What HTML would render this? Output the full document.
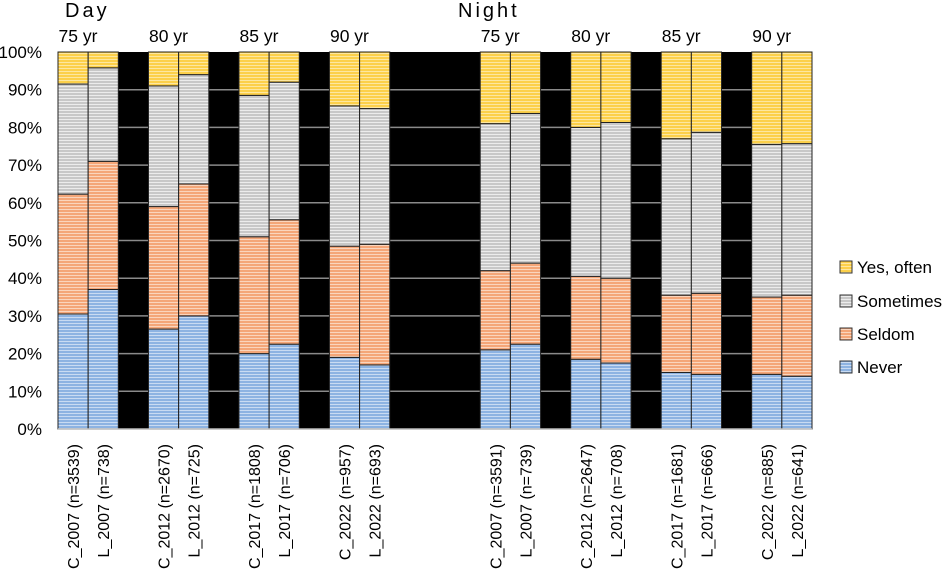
<!DOCTYPE html>
<html><head><meta charset="utf-8"><style>
body{margin:0;background:#fff;}
svg text{font-family:"Liberation Sans",sans-serif;fill:#000;}
</style></head><body>
<svg id="chart" width="948" height="575" viewBox="0 0 948 575" xmlns="http://www.w3.org/2000/svg">
<defs>
<pattern id="pNever" width="4" height="3" patternUnits="userSpaceOnUse"><rect width="4" height="3" fill="#8db3e2"/><rect y="2" width="4" height="1" fill="#c9dbf2"/></pattern>
<pattern id="pSeldom" width="4" height="3" patternUnits="userSpaceOnUse"><rect width="4" height="3" fill="#f4a678"/><rect y="2" width="4" height="1" fill="#fad5bd"/></pattern>
<pattern id="pSometimes" width="4" height="3" patternUnits="userSpaceOnUse"><rect width="4" height="3" fill="#c8c8c8"/><rect y="2" width="4" height="1" fill="#ececec"/></pattern>
<pattern id="pYes" width="4" height="3" patternUnits="userSpaceOnUse"><rect width="4" height="3" fill="#fcd04a"/><rect y="2" width="4" height="1" fill="#fde7a0"/></pattern>
</defs>
<g id="plot"></g>
</svg>
<script>
const categories = ["C_2007 (n=3539)","L_2007 (n=738)","C_2012 (n=2670)","L_2012 (n=725)","C_2017 (n=1808)","L_2017 (n=706)","C_2022 (n=957)","L_2022 (n=693)",
"C_2007 (n=3591)","L_2007 (n=739)","C_2012 (n=2647)","L_2012 (n=708)","C_2017 (n=1681)","L_2017 (n=666)","C_2022 (n=885)","L_2022 (n=641)"];
const slots = [0,1,3,4,6,7,9,10,14,15,17,18,20,21,23,24];
const never = [30.5,37,26.5,30,20,22.5,19,17,21,22.5,18.5,17.5,15,14.5,14.5,14];
const seldom = [31.8,34,32.5,35,31,33,29.5,32,21,21.5,22,22.5,20.5,21.5,20.5,21.5];
const sometimes = [29.2,24.8,32,29,37.5,36.5,37.2,36,39,39.7,39.5,41.3,41.5,42.7,40.5,40.2];
const groupLabels = ["75 yr","80 yr","85 yr","90 yr","75 yr","80 yr","85 yr","90 yr"];
const yTicks = [0,10,20,30,40,50,60,70,80,90,100];
const seriesNames = ["Yes, often","Sometimes","Seldom","Never"];

const NS="http://www.w3.org/2000/svg";
const g=document.getElementById('plot');
const X0=58, X1=812, NSLOT=25, SW=(X1-X0)/NSLOT, Y0=429, Y100=52;
const y=v=>Y0-(Y0-Y100)*v/100;
const x=s=>X0+s*SW;
function mk(tag,attrs,parent){const e=document.createElementNS(NS,tag);for(const k in attrs)e.setAttribute(k,attrs[k]);(parent||g).appendChild(e);return e;}

let bg=mk('rect',{x:X0,y:Y100,width:X1-X0,height:Y0-Y100,fill:'#000'});


yTicks.forEach(t=>{
  if(t>0&&t<100){let l=mk('line',{x1:X0,x2:X1,y1:y(t),y2:y(t),stroke:'#8a8a8a','stroke-width':1.5});
  
  }
  let tx=mk('text',{x:42,y:y(t)+6,'text-anchor':'end','font-size':17});
  tx.textContent=t+'%';
  
  
});
const fills=['url(#pNever)','url(#pSeldom)','url(#pSometimes)','url(#pYes)'];
const segNames=['never','seldom','sometimes','yes-often'];
categories.forEach((c,i)=>{
  const vals=[never[i],seldom[i],sometimes[i],100-never[i]-seldom[i]-sometimes[i]];
  let cum=0;
  vals.forEach((v,k)=>{
    const r=mk('rect',{x:x(slots[i]),y:y(cum+v),width:SW,height:y(cum)-y(cum+v),fill:fills[k],stroke:'#222','stroke-width':1});
    
    
    cum+=v;
  });
  const cx=x(slots[i])+SW/2+6, ty=444;
  const t=mk('text',{x:0,y:0,'text-anchor':'end','font-size':16,transform:`translate(${cx},${ty}) rotate(-90)`});
  t.textContent=c;
  
  
});
let ax=mk('line',{x1:X0,x2:X1,y1:Y0,y2:Y0,stroke:'#bbb','stroke-width':1.5});


groupLabels.forEach((lbl,j)=>{
  const t=mk('text',{x:x(slots[j*2])+20,y:42,'text-anchor':'middle','font-size':17.5});
  t.textContent=lbl;
  
  
});
let d=mk('text',{x:65,y:17,'font-size':20,'letter-spacing':3});
d.textContent='Day';


let n=mk('text',{x:458,y:17,'font-size':20,'letter-spacing':3});
n.textContent='Night';


const lf=['url(#pYes)','url(#pSometimes)','url(#pSeldom)','url(#pNever)'];
const ly=[267,301,334,367];
seriesNames.forEach((s,k)=>{
  const r=mk('rect',{x:840,y:ly[k]-6,width:12,height:12,fill:lf[k],stroke:'#333','stroke-width':1});
  
  
  const t=mk('text',{x:857,y:ly[k]+6,'font-size':17});
  t.textContent=s;
  
  
});
</script>
</body></html>
